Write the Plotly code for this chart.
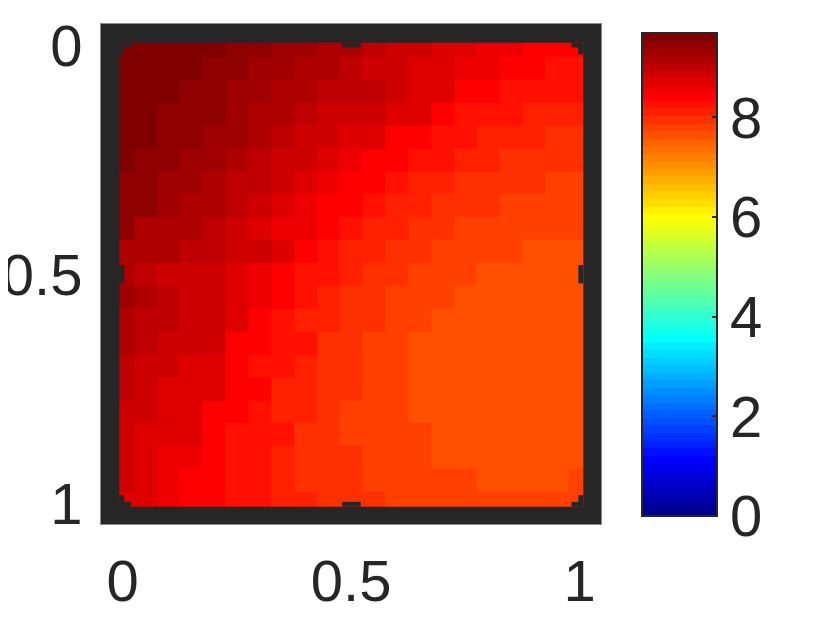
import plotly.graph_objects as go

# cell edges, the first and last cell are cut off by the wall
x_edges = [-0.0072, 0.025, 0.075, 0.125, 0.175, 0.225, 0.275, 0.325, 0.375, 0.425, 0.475,
           0.525, 0.575, 0.625, 0.675, 0.725, 0.775, 0.825, 0.875, 0.925, 0.975, 1.0078]
y_edges = [-0.0056, 0.025, 0.075, 0.125, 0.175, 0.225, 0.275, 0.325, 0.375, 0.425, 0.475,
           0.525, 0.575, 0.625, 0.675, 0.725, 0.775, 0.825, 0.875, 0.925, 0.975, 1.0075]

row_00 = [9.61, 9.61, 9.61, 9.61, 9.61, 9.46, 9.46, 9.31, 9.31, 9.16, 9.16, 9.01, 8.86, 8.86, 8.70, 8.70, 8.55, 8.55, 8.40, 8.40, 8.40]
row_01 = [9.61, 9.61, 9.61, 9.61, 9.46, 9.46, 9.31, 9.31, 9.16, 9.16, 9.01, 8.86, 8.86, 8.70, 8.70, 8.55, 8.55, 8.40, 8.40, 8.25, 8.25]
row_02 = [9.61, 9.61, 9.61, 9.46, 9.46, 9.31, 9.31, 9.16, 9.16, 9.01, 9.01, 9.01, 8.86, 8.70, 8.70, 8.40, 8.40, 8.25, 8.25, 8.25, 8.25]
row_03 = [9.61, 9.61, 9.46, 9.46, 9.46, 9.31, 9.16, 9.16, 9.01, 8.86, 8.86, 8.86, 8.70, 8.70, 8.40, 8.25, 8.25, 8.25, 8.10, 8.10, 8.10]
row_04 = [9.61, 9.61, 9.46, 9.46, 9.31, 9.31, 9.16, 9.01, 8.86, 8.86, 8.70, 8.70, 8.40, 8.40, 8.25, 8.25, 8.10, 8.10, 8.10, 7.95, 7.95]
row_05 = [9.61, 9.46, 9.46, 9.31, 9.31, 9.16, 9.01, 8.86, 8.86, 8.70, 8.55, 8.40, 8.40, 8.25, 8.25, 8.10, 8.10, 7.95, 7.95, 7.95, 7.95]
row_06 = [9.46, 9.46, 9.31, 9.31, 9.16, 9.01, 9.01, 8.86, 8.70, 8.55, 8.40, 8.40, 8.25, 8.10, 8.10, 7.95, 7.95, 7.95, 7.95, 7.80, 7.80]
row_07 = [9.46, 9.46, 9.31, 9.16, 9.16, 9.01, 8.86, 8.70, 8.55, 8.40, 8.40, 8.25, 8.10, 8.10, 7.95, 7.95, 7.95, 7.80, 7.80, 7.80, 7.80]
row_08 = [9.46, 9.16, 9.16, 9.16, 9.01, 8.86, 8.70, 8.55, 8.55, 8.40, 8.25, 8.10, 8.10, 7.95, 7.95, 7.80, 7.80, 7.80, 7.80, 7.80, 7.80]
row_09 = [9.16, 9.16, 9.16, 9.01, 9.01, 8.86, 8.86, 8.70, 8.40, 8.25, 8.10, 8.10, 7.95, 7.95, 7.80, 7.80, 7.80, 7.80, 7.65, 7.65, 7.65]
row_10 = [9.16, 9.01, 8.86, 8.86, 8.86, 8.70, 8.55, 8.40, 8.25, 8.25, 8.10, 7.95, 7.95, 7.80, 7.80, 7.80, 7.65, 7.65, 7.65, 7.65, 7.65]
row_11 = [9.31, 9.16, 9.01, 8.86, 8.86, 8.70, 8.55, 8.40, 8.25, 8.10, 7.95, 7.95, 7.80, 7.80, 7.80, 7.65, 7.65, 7.65, 7.65, 7.65, 7.65]
row_12 = [9.16, 9.01, 9.01, 8.86, 8.86, 8.70, 8.40, 8.25, 8.10, 8.10, 7.95, 7.95, 7.80, 7.80, 7.65, 7.65, 7.65, 7.65, 7.65, 7.65, 7.65]
row_13 = [9.16, 9.01, 8.86, 8.86, 8.86, 8.40, 8.40, 8.25, 8.25, 7.95, 7.95, 7.80, 7.80, 7.65, 7.65, 7.65, 7.65, 7.65, 7.65, 7.65, 7.65]
row_14 = [9.01, 8.86, 8.86, 8.70, 8.70, 8.40, 8.25, 8.25, 8.10, 7.95, 7.95, 7.80, 7.80, 7.65, 7.65, 7.65, 7.65, 7.65, 7.65, 7.65, 7.65]
row_15 = [9.01, 8.86, 8.70, 8.70, 8.70, 8.40, 8.40, 8.10, 8.10, 7.95, 7.95, 7.80, 7.80, 7.65, 7.65, 7.65, 7.65, 7.65, 7.65, 7.65, 7.65]
row_16 = [8.86, 8.86, 8.70, 8.70, 8.40, 8.40, 8.25, 8.10, 8.10, 7.95, 7.80, 7.80, 7.80, 7.65, 7.65, 7.65, 7.65, 7.65, 7.65, 7.65, 7.65]
row_17 = [8.86, 8.70, 8.70, 8.70, 8.40, 8.25, 8.25, 8.25, 7.95, 7.95, 7.80, 7.80, 7.80, 7.80, 7.65, 7.65, 7.65, 7.65, 7.65, 7.65, 7.65]
row_18 = [8.86, 8.70, 8.55, 8.55, 8.40, 8.25, 8.25, 8.10, 7.95, 7.95, 7.95, 7.80, 7.80, 7.80, 7.65, 7.65, 7.65, 7.65, 7.65, 7.65, 7.65]
row_19 = [8.86, 8.70, 8.55, 8.40, 8.40, 8.25, 8.25, 8.10, 7.95, 7.95, 7.95, 7.80, 7.80, 7.80, 7.80, 7.80, 7.65, 7.65, 7.65, 7.65, 7.80]
row_20 = [8.70, 8.70, 8.55, 8.40, 8.40, 8.25, 8.25, 8.10, 8.10, 7.95, 7.95, 7.95, 7.80, 7.80, 7.80, 7.80, 7.80, 7.80, 7.80, 7.80, 7.80]

z = [row_00, row_01, row_02, row_03, row_04, row_05, row_06, row_07, row_08, row_09, row_10,
     row_11, row_12, row_13, row_14, row_15, row_16, row_17, row_18, row_19, row_20]

z_max = 9.69
ticks = [0, 0.5, 1]
cbar_ticks = [0, 2, 4, 6, 8]

DARK = "#262626"
FONT = dict(family="Liberation Sans", size=58, color=DARK)


def jet(i, n=64):
    # matlab jet colormap, level i of n
    t = (i + 1) / n
    r = min(max(min(4 * t - 1.5, -4 * t + 4.5), 0), 1)
    g = min(max(min(4 * t - 0.5, -4 * t + 3.5), 0), 1)
    b = min(max(min(4 * t + 0.5, -4 * t + 2.5), 0), 1)
    return "rgb(%d,%d,%d)" % (round(r * 255), round(g * 255), round(b * 255))


colorscale = []
for i in range(64):
    colorscale.append([i / 64, jet(i)])
    colorscale.append([(i + 1) / 64, jet(i)])

fig = go.Figure(go.Heatmap(
    x=x_edges, y=y_edges, z=z,
    zmin=0, zmax=z_max,
    colorscale=colorscale,
    hoverinfo="skip",
    colorbar=dict(
        x=1.082, xanchor="left", xpad=0,
        y=0.499, yanchor="middle", ypad=0,
        thicknessmode="pixels", thickness=75,
        lenmode="pixels", len=483,
        outlinecolor=DARK, outlinewidth=2,
        tickmode="array", tickvals=cbar_ticks,
        ticks="inside", ticklen=6, tickwidth=2, tickcolor=DARK,
        tickfont=FONT,
    ),
))

# stepped corners and small notches of the wall
x0, x1 = x_edges[0], x_edges[-1]
y0, y1 = y_edges[0], y_edges[-1]
s1, s2 = 0.0105, 0.0255
wall_bits = []
for cx, dx in ((x0, 1), (x1, -1)):
    for cy, dy in ((y0, 1), (y1, -1)):
        wall_bits.append((cx, cx + dx * s2, cy, cy + dy * s1))
        wall_bits.append((cx, cx + dx * s1, cy, cy + dy * s2))
wall_bits.append((0.4807, 0.521, y0, y0 + s1))
wall_bits.append((0.4807, 0.521, y1, y1 - s1))
wall_bits.append((x0, x0 + s1, 0.4798, 0.5198))
wall_bits.append((x1, x1 - s1, 0.4798, 0.5198))
for a, b, c, d in wall_bits:
    fig.add_shape(type="rect", x0=a, x1=b, y0=c, y1=d, fillcolor=DARK, line_width=0, layer="above")

# the page body adds its own 8px offset, so the margins are 8px less here
fig.update_layout(
    width=830, height=625,
    margin=dict(l=93, r=237, t=16, b=109),
    paper_bgcolor="white",
    plot_bgcolor=DARK,
    font=FONT,
    xaxis=dict(range=[-0.0473, 1.0468], tickmode="array", tickvals=ticks, ticktext=["0", "0.5", "1"],
               automargin=False,
               showgrid=False, zeroline=False, ticks="", tickfont=FONT, ticklabelstandoff=6,
               showline=True, mirror=True, linecolor="#8c8c8c", linewidth=1),
    yaxis=dict(range=[1.0453, -0.0464], tickmode="array", tickvals=ticks, ticktext=["0", "0.5", "1"],
               automargin=False,
               showgrid=False, zeroline=False, ticks="", tickfont=FONT, ticklabelstandoff=6,
               showline=True, mirror=True, linecolor="#8c8c8c", linewidth=1),
)

fig.write_html("out.html")
